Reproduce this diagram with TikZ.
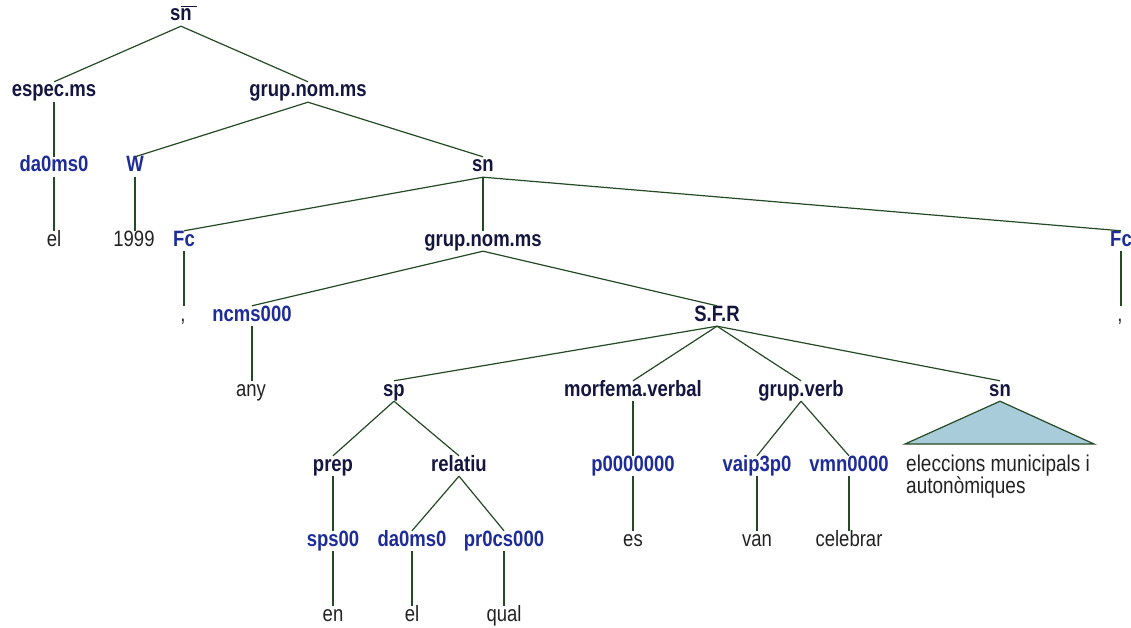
\documentclass[tikz,border=0pt]{standalone}
\usepackage{fontspec}
\setmainfont{Liberation Sans}
\definecolor{catcol}{HTML}{15163F}
\definecolor{tagcol}{HTML}{1E2C9A}
\definecolor{wordcol}{HTML}{222222}
\definecolor{linecol}{HTML}{244A24}
\definecolor{trifill}{HTML}{A8CCD9}
\newcommand{\T}[1]{\scalebox{1}[1.2]{#1}}
\tikzset{
  lbase/.style={anchor=base, inner sep=0pt, text height=15pt, text depth=5pt},
  cat/.style={lbase, text=catcol, font=\fontsize{18.5}{20}\selectfont\bfseries},
  tag/.style={lbase, text=tagcol, font=\fontsize{18.5}{20}\selectfont\bfseries},
  word/.style={lbase, text=wordcol, font=\fontsize{18.5}{20}\selectfont},
  edge/.style={draw=linecol, line width=1.2pt}
}
\begin{document}
\begin{tikzpicture}[x=1pt, y=-1pt]
\useasboundingbox (0,0) rectangle (1131,628);
% row 0
\node[cat] (top) at (181,21) {\T{sn}};
% row 1
\node[cat] (espec) at (54,97) {\T{espec.ms}};
\node[cat] (grupA) at (308,97) {\T{grup.nom.ms}};
% row 2
\node[tag] (daA) at (54,172) {\T{da0ms0}};
\node[tag] (W) at (135,172) {\T{W}};
\node[cat] (snB) at (483,172) {\T{sn}};
% row 3
\node[word] (elA) at (54,246) {\T{el}};
\node[word] (y1999) at (134,246) {\T{1999}};
\node[tag] (FcA) at (184,246) {\T{Fc}};
\node[cat] (grupB) at (483,246) {\T{grup.nom.ms}};
\node[tag] (FcB) at (1121,246) {\T{Fc}};
% row 4
\node[word] (commaA) at (183,321) {\T{,}};
\node[tag] (ncms) at (252,321) {\T{ncms000}};
\node[cat] (sfr) at (717,321) {\T{S.F.R}};
\node[word] (commaB) at (1120,321) {\T{,}};
% row 5
\node[word] (any) at (251,396) {\T{any}};
\node[cat] (sp) at (394,396) {\T{sp}};
\node[cat] (morf) at (633,396) {\T{morfema.verbal}};
\node[cat] (gverb) at (801,396) {\T{grup.verb}};
\node[cat] (snC) at (1000,396) {\T{sn}};
% row 6
\node[cat] (prep) at (333,471) {\T{prep}};
\node[cat] (relatiu) at (459,471) {\T{relatiu}};
\node[tag] (pzero) at (633,471) {\T{p0000000}};
\node[tag] (vaip) at (757,471) {\T{vaip3p0}};
\node[tag] (vmn) at (849,471) {\T{vmn0000}};
% row 7
\node[tag] (sps) at (333,546) {\T{sps00}};
\node[tag] (daB) at (412,546) {\T{da0ms0}};
\node[tag] (pr) at (504,546) {\T{pr0cs000}};
\node[word] (es) at (633,546) {\T{es}};
\node[word] (van) at (757,546) {\T{van}};
\node[word] (celebrar) at (849,546) {\T{celebrar}};
% row 8
\node[word] (en) at (333,621) {\T{en}};
\node[word] (elB) at (412,621) {\T{el}};
\node[word] (qual) at (504,621) {\T{qual}};

% bar over top sn
\draw[catcol, line width=1pt] (181,7) -- (197,7);

% edges
\draw[edge] (top.south) -- (espec.north);
\draw[edge] (top.south) -- (grupA.north);
\draw[edge] (espec.south) -- (daA.north);
\draw[edge] (daA.south) -- (elA.north);
\draw[edge] (grupA.south) -- (W.north);
\draw[edge] (grupA.south) -- (snB.north);
\draw[edge] (W.south) -- (y1999.north -| W.south);
\draw[edge] (snB.south) -- (FcA.north);
\draw[edge] (snB.south) -- (grupB.north);
\draw[edge] (snB.south) -- (FcB.north);
\draw[edge] (FcA.south) -- (FcA.south |- commaA.north);
\draw[edge] (FcB.south) -- (FcB.south |- commaB.north);
\draw[edge] (grupB.south) -- (ncms.north);
\draw[edge] (grupB.south) -- (sfr.north);
\draw[edge] (ncms.south) -- (ncms.south |- any.north);
\draw[edge] (sfr.south) -- (sp.north);
\draw[edge] (sfr.south) -- (morf.north);
\draw[edge] (sfr.south) -- (gverb.north);
\draw[edge] (sfr.south) -- (snC.north);
\draw[edge] (sp.south) -- (prep.north);
\draw[edge] (sp.south) -- (relatiu.north);
\draw[edge] (prep.south) -- (sps.north);
\draw[edge] (sps.south) -- (en.north);
\draw[edge] (relatiu.south) -- (daB.north);
\draw[edge] (relatiu.south) -- (pr.north);
\draw[edge] (daB.south) -- (elB.north);
\draw[edge] (pr.south) -- (qual.north);
\draw[edge] (morf.south) -- (pzero.north);
\draw[edge] (pzero.south) -- (es.north);
\draw[edge] (gverb.south) -- (vaip.north);
\draw[edge] (gverb.south) -- (vmn.north);
\draw[edge] (vaip.south) -- (van.north);
\draw[edge] (vmn.south) -- (celebrar.north);

% triangle for collapsed sn
\coordinate (tl) at (905,444);
\coordinate (tr) at (1094,444);
\draw[edge, fill=trifill] (snC.south) -- (tl) -- (tr) -- cycle;
\node[anchor=north west, inner sep=0pt, align=left, text=wordcol,
      font=\fontsize{19}{22}\selectfont] (elecc) at (906,455)
      {\T{eleccions municipals i}\\\T{autonòmiques}};
\end{tikzpicture}
\end{document}
